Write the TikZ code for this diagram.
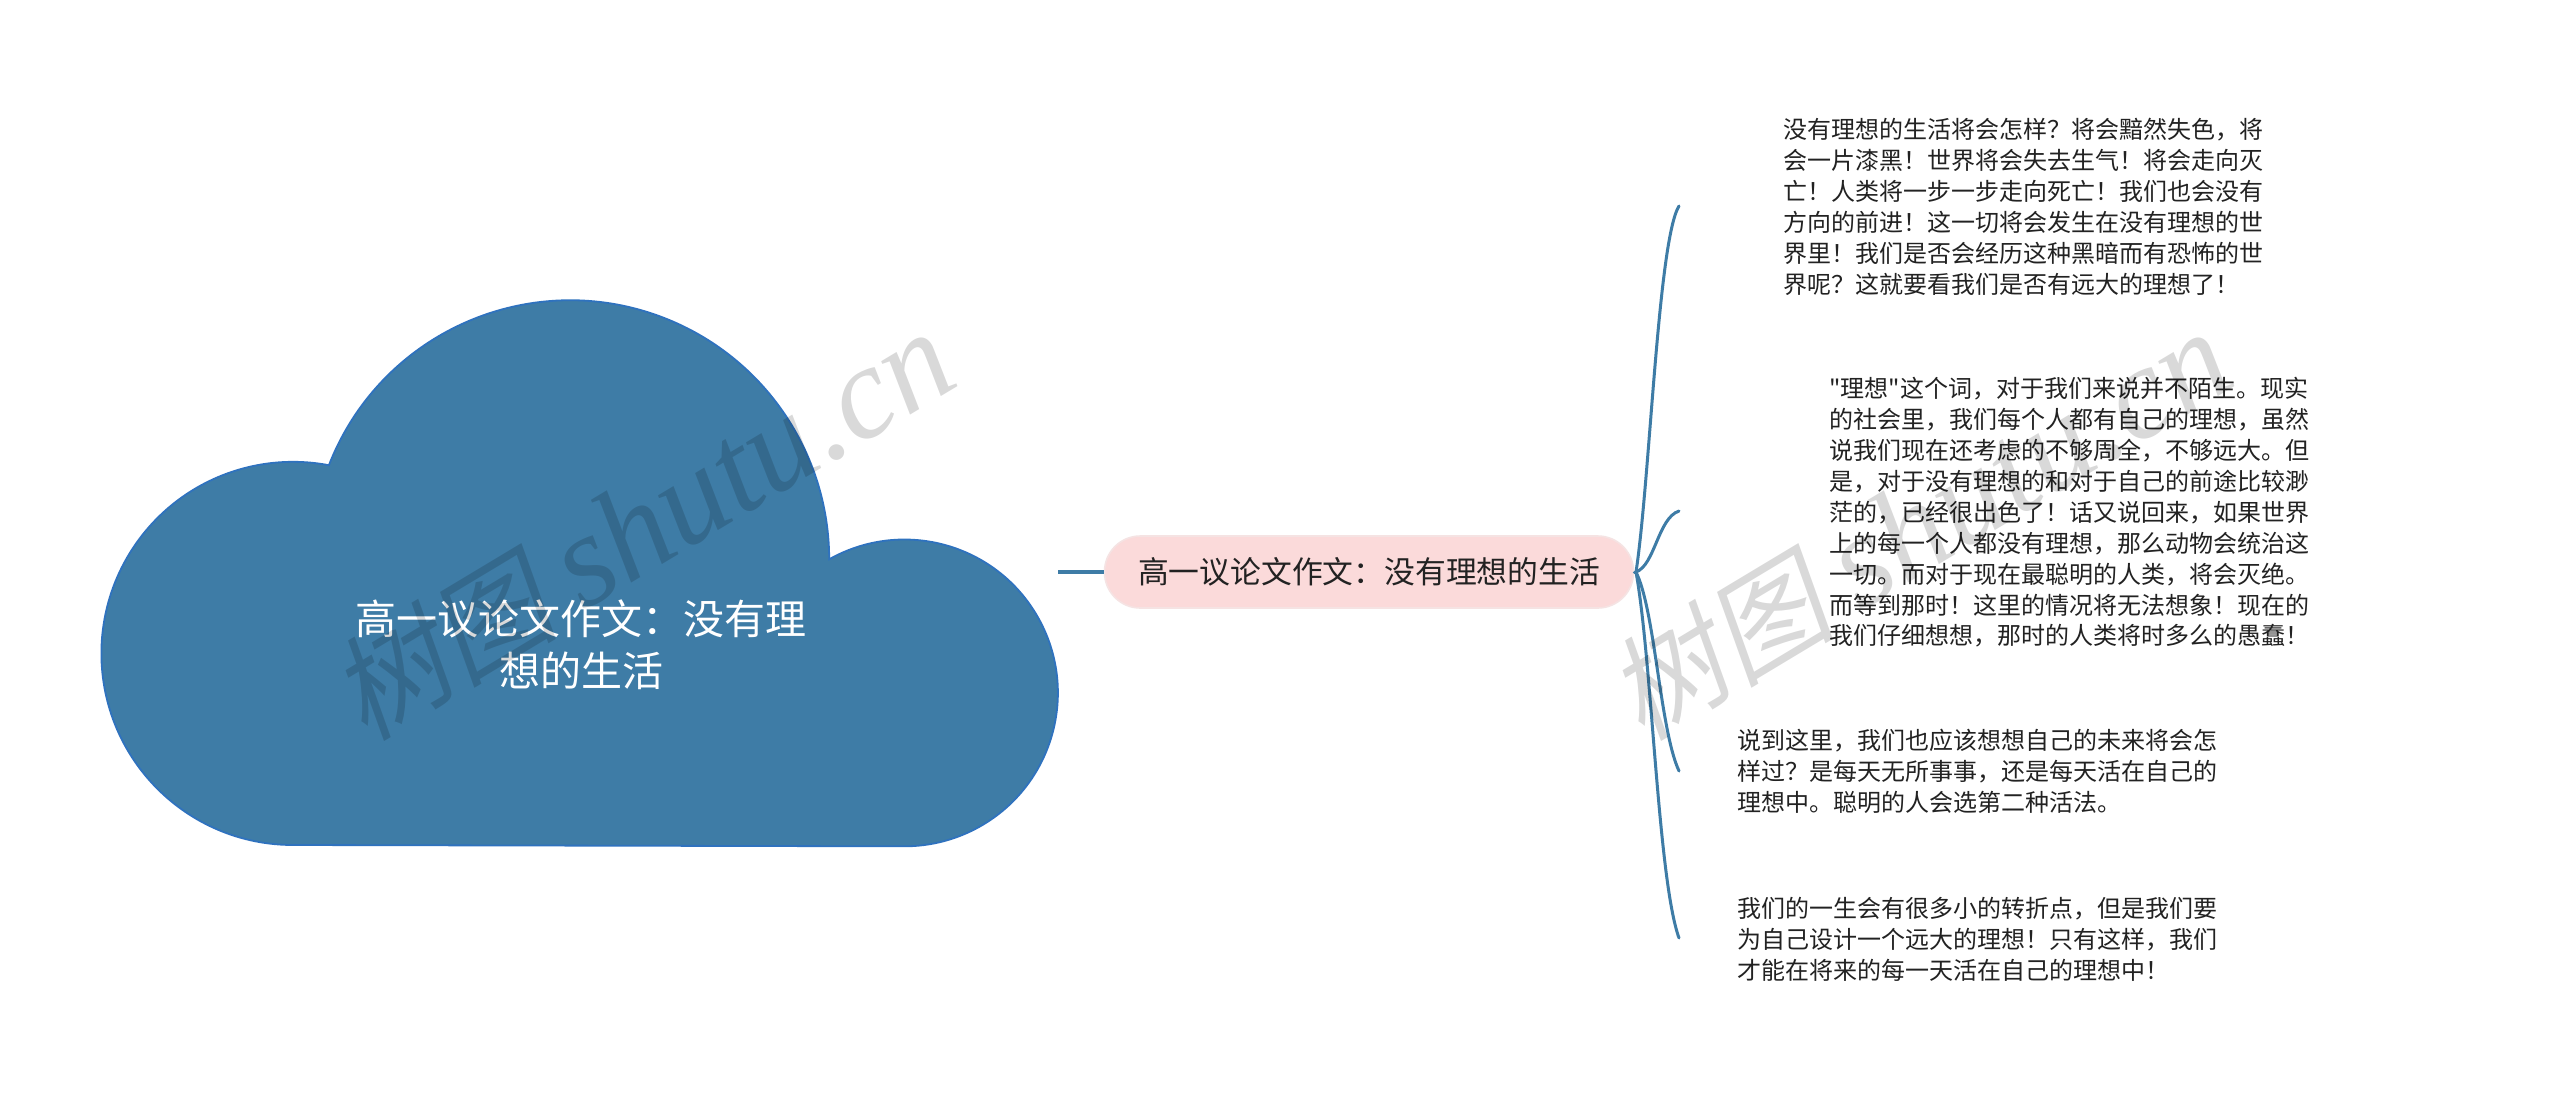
\documentclass[tikz,border=0pt]{standalone}
\usepackage{fontspec}
\newfontfamily\cjk{Noto Sans CJK SC}
\newfontfamily\wmlatin{Liberation Serif}[ItalicFont={Liberation Serif Italic}]
\newfontfamily\wmcjk[FakeSlant=0.2]{Noto Sans CJK SC}
\definecolor{branch}{HTML}{3E7CA6}
\definecolor{cloudedge}{HTML}{2F72BE}
\definecolor{topicfill}{HTML}{FBDADA}
\definecolor{topicedge}{HTML}{F5E3E3}
\definecolor{inktext}{HTML}{222222}
\tikzset{
  leaf/.style={anchor=west,inner sep=0pt,align=left,text=inktext,font=\cjk\fontsize{12pt}{15.45pt}\selectfont},
  topicbox/.style={rounded corners=17.9pt,fill=topicfill,draw=topicedge,line width=.8pt,text=inktext,minimum width=264.5pt,minimum height=36pt,inner sep=0pt,font=\cjk\fontsize{15.4pt}{18pt}\selectfont},
  rootlabel/.style={text=white,align=center,inner sep=0pt,font=\cjk\fontsize{20.5pt}{26pt}\selectfont},
  link/.style={draw=branch,line width=1.5pt,line cap=round},
  stem/.style={draw=branch,line width=2.4pt},
  watermark/.style={rotate=31,text=black,opacity=.15,inner sep=0pt}
}
\newcommand{\wmtext}{{\wmcjk\fontsize{57pt}{60pt}\selectfont 树图}\hspace{13pt}{\wmlatin\itshape\fontsize{66pt}{60pt}\selectfont shutu.cn}}
\begin{document}
\begin{tikzpicture}[x=.5pt,y=-.5pt]
\useasboundingbox (0,0) rectangle (2560,1099);
\fill[white] (0,0) rectangle (2560,1099);
% cloud
\begin{scope}[x=.5pt,y=.5pt,yshift=-549.5pt]
\draw[fill=branch,draw=cloudedge,line width=.9pt]
  (293,254) arc[start angle=270,end angle=79.2,radius=95.8pt]
  arc[start angle=158.7,end angle=0,radius=129.5pt]
  arc[start angle=119.4,end angle=-90,radius=76.7pt] -- cycle;
\end{scope}
\coordinate (cloudR) at (1058,572);
\node[rootlabel] (root) at (581,645) {高一议论文作文：没有理\\想的生活};
\node[topicbox] (topic) at (1369,572) {高一议论文作文：没有理想的生活};
\draw[stem] (cloudR) -- (topic.west);
\coordinate (hub) at (1636,572);
\coordinate (e1) at (1679,206);
\coordinate (e2) at (1679,511);
\coordinate (e3) at (1679,771);
\coordinate (e4) at (1679,938);
\draw[link] (topic.east) -- (hub);
\draw[link] (hub) .. controls (1650,480) and (1658,240) .. (e1);
\draw[link] (hub) .. controls (1655,565) and (1658,518) .. (e2);
\draw[link] (hub) .. controls (1655,610) and (1660,730) .. (e3);
\draw[link] (hub) .. controls (1652,660) and (1658,880) .. (e4);
\node[leaf] (t1) at (1783,207) {没有理想的生活将会怎样？将会黯然失色，将\\会一片漆黑！世界将会失去生气！将会走向灭\\亡！人类将一步一步走向死亡！我们也会没有\\方向的前进！这一切将会发生在没有理想的世\\界里！我们是否会经历这种黑暗而有恐怖的世\\界呢？这就要看我们是否有远大的理想了！};
\node[leaf] (t2) at (1829,512.5) {"理想"这个词，对于我们来说并不陌生。现实\\的社会里，我们每个人都有自己的理想，虽然\\说我们现在还考虑的不够周全，不够远大。但\\是，对于没有理想的和对于自己的前途比较渺\\茫的，已经很出色了！话又说回来，如果世界\\上的每一个人都没有理想，那么动物会统治这\\一切。而对于现在最聪明的人类，将会灭绝。\\而等到那时！这里的情况将无法想象！现在的\\我们仔细想想，那时的人类将时多么的愚蠢！};
\node[leaf] (t3) at (1737,771.5) {说到这里，我们也应该想想自己的未来将会怎\\样过？是每天无所事事，还是每天活在自己的\\理想中。聪明的人会选第二种活法。};
\node[leaf] (t4) at (1737,939) {我们的一生会有很多小的转折点，但是我们要\\为自己设计一个远大的理想！只有这样，我们\\才能在将来的每一天活在自己的理想中！};
\node[watermark] (w1) at (642,526) {\wmtext};
\node[watermark] (w2) at (1919,526) {\wmtext};
\end{tikzpicture}
\end{document}
